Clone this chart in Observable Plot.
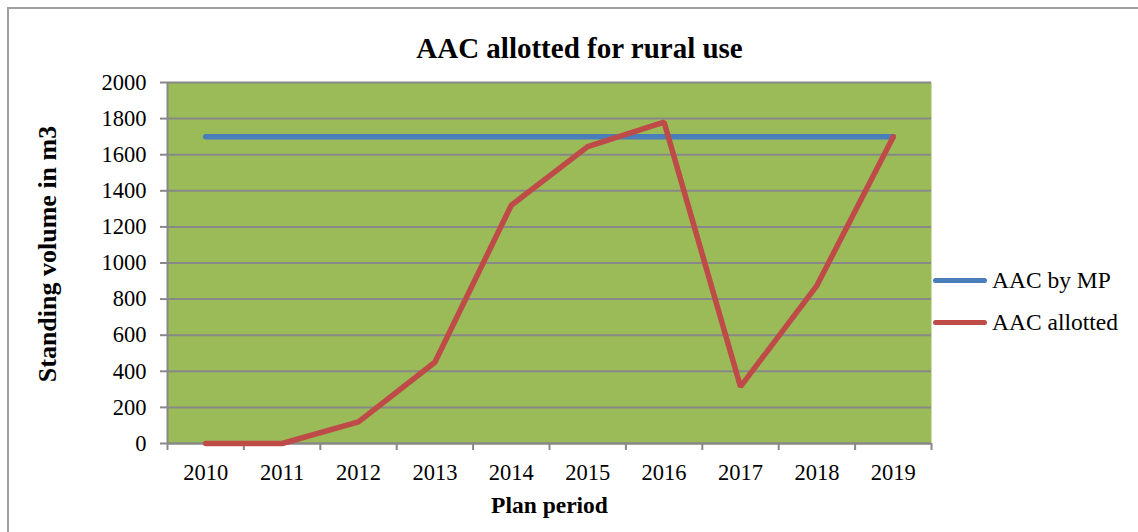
<!DOCTYPE html>
<html>
<head>
<meta charset="utf-8">
<script src="https://cdn.jsdelivr.net/npm/d3@7"></script>
<script src="https://cdn.jsdelivr.net/npm/@observablehq/plot@0.6"></script>
<style>
  html, body { margin: 0; padding: 0; background: #fff; overflow: hidden; }
  #wrap { position: relative; width: 1138px; height: 532px; overflow: hidden; font-family: 'Liberation Serif', serif; }
  #border { position: absolute; left: 7px; top: 7px; width: 1300px; height: 700px; border: 2px solid #9f9f9f; box-sizing: border-box; }
  #chart { position: absolute; left: 0; top: 0; }
  #chart svg, #chart svg text { font-family: 'Liberation Serif', serif !important; }
  .leg { position: absolute; left: 933px; display: flex; align-items: center; font-size: 23.5px; line-height: 26px; color: #000; font-family: 'Liberation Serif', serif; }
  .leg .sw { width: 54px; height: 5px; border-radius: 3px; margin-right: 5px; }
</style>
</head>
<body>
<div id="wrap">
  <div id="border"></div>
  <div id="chart"></div>
  <div class="leg" style="top:267px"><div class="sw" style="background:#4A7EBB"></div><span>AAC by MP</span></div>
  <div class="leg" style="top:309px"><div class="sw" style="background:#BE4B48"></div><span>AAC allotted</span></div>
</div>
<script>
const years = ["2010","2011","2012","2013","2014","2015","2016","2017","2018","2019"];
const aacByMP = [1700,1700,1700,1700,1700,1700,1700,1700,1700,1700];
const aacAllotted = [0,0,120,450,1320,1645,1780,315,875,1700];
const yTicks = [0,200,400,600,800,1000,1200,1400,1600,1800,2000];

const idx = years.map((_, i) => i);
const boundaries = years.concat([""]).map((_, i) => i - 0.5);
const mpData = idx.map(i => ({x: i, y: aacByMP[i]}));
const allotData = idx.map(i => ({x: i, y: aacAllotted[i]}));

const gray = "#888888";

const chart = Plot.plot({
  width: 1138,
  height: 532,
  marginLeft: 167,
  marginRight: 207,
  marginTop: 82,
  marginBottom: 89,
  style: {fontFamily: "Liberation Serif", fontSize: "22px", color: "#000", background: "transparent", overflow: "visible"},
  x: {type: "linear", domain: [-0.5, 9.5]},
  y: {domain: [0, 2000]},
  marks: [
    Plot.frame({fill: "#9BBB59", stroke: null}),
    Plot.gridY(yTicks, {stroke: gray, strokeOpacity: 1, strokeWidth: 2}),
    Plot.ruleX([-0.5], {stroke: gray, strokeWidth: 2}),
    Plot.ruleY([0], {stroke: gray, strokeWidth: 2}),
    Plot.axisY({ticks: yTicks, tickSize: 7, tickPadding: 14, tickFormat: d => String(d), stroke: gray, strokeWidth: 2, label: null, fontSize: 22.5}),
    Plot.axisX({ticks: boundaries, tickSize: 7, tickFormat: () => "", stroke: gray, strokeWidth: 2, label: null}),
    Plot.axisX({ticks: idx, tickSize: 0, tickPadding: 21, tickFormat: i => years[i], label: null, fontSize: 22.5}),
    Plot.line(mpData, {x: "x", y: "y", stroke: "#4A7EBB", strokeWidth: 5.5, strokeLinecap: "round"}),
    Plot.line(allotData, {x: "x", y: "y", stroke: "#BE4B48", strokeWidth: 5.5, strokeLinecap: "round", strokeLinejoin: "miter"}),
    Plot.text(["AAC allotted for rural use"], {frameAnchor: "top", lineAnchor: "middle", textAnchor: "middle", dx: 30, dy: -34, fontWeight: "bold", fontSize: 29, fill: "#000"}),
    Plot.text(["Standing volume in m3"], {frameAnchor: "left", lineAnchor: "middle", textAnchor: "middle", dx: -120, dy: -9, rotate: -90, fontWeight: "bold", fontSize: 26, fill: "#000"}),
    Plot.text(["Plan period"], {frameAnchor: "bottom", lineAnchor: "middle", textAnchor: "middle", dy: 62, fontWeight: "bold", fontSize: 23.5, fill: "#000"})
  ]
});
document.getElementById("chart").appendChild(chart);
</script>
</body>
</html>
